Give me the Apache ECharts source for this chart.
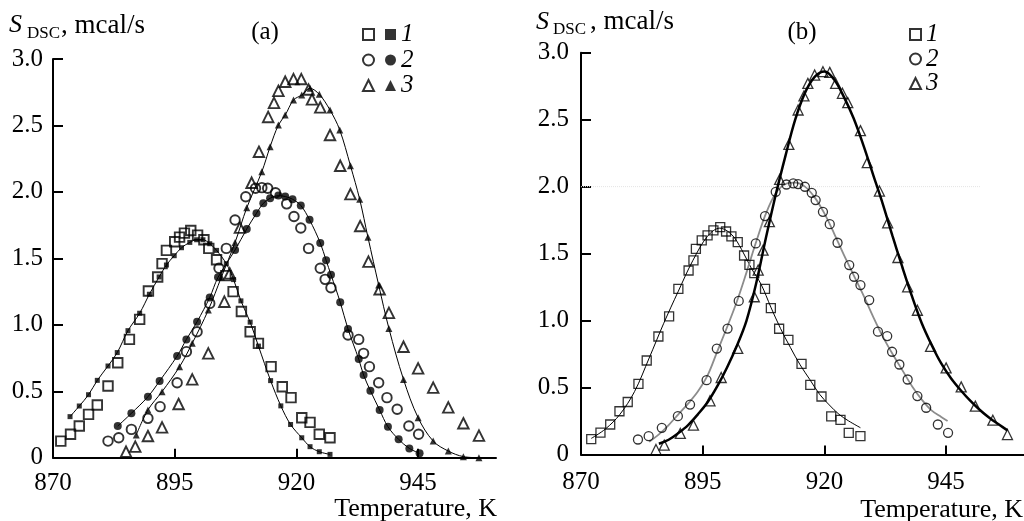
<!DOCTYPE html>
<html>
<head>
<meta charset="utf-8">
<script src="https://cdn.jsdelivr.net/npm/echarts@6/dist/echarts.min.js"></script>
<style>html,body{margin:0;padding:0;background:#fff}#c{width:1024px;height:521px}</style>
</head>
<body>
<div id="c"></div>
<script>
// ---------- DATA (Temperature K, S_DSC mcal/s) ----------
const xTicks = [870, 895, 920, 945];
const yTicks = [0, 0.5, 1.0, 1.5, 2.0, 2.5, 3.0];
const seriesLabels = ['1', '2', '3'];

// Panel (a): open = experiment, filled = calculated
const a1Open = [[871.6,0.125],[873.6,0.176],[875.4,0.238],[877.3,0.326],[879.1,0.396],[881.3,0.539],[883.3,0.715],[885.7,0.890],[887.8,1.041],[889.6,1.254],[891.5,1.36],[892.4,1.46],[893.3,1.56],[895.0,1.625],[896.0,1.66],[897.0,1.69],[898.3,1.71],[899.7,1.675],[901.0,1.64],[902.0,1.575],[903.6,1.49],[905.5,1.37],[907.0,1.25],[908.7,1.10],[910.5,0.948],[912.2,0.86],[914.8,0.685],[917.1,0.534],[918.9,0.452],[921.1,0.301],[922.8,0.266],[924.7,0.176],[926.9,0.15]];
const a1Fill = [[873.5,0.309],[875.4,0.389],[877.3,0.474],[879.1,0.582],[881.3,0.690],[883.2,0.791],[885.4,0.956],[887.8,1.087],[889.8,1.23],[891.8,1.36],[893.3,1.45],[894.9,1.52],[896.4,1.58],[898.1,1.62],[899.5,1.64],[900.8,1.64],[902.2,1.61],[903.6,1.56],[905.6,1.46],[907.1,1.34],[908.6,1.18],[910.5,1.02],[912.2,0.84],[914.7,0.58],[916.8,0.39],[918.8,0.25],[921.1,0.15],[922.8,0.083],[924.7,0.045],[926.9,0.025]];
const a2Open = [[881.3,0.125],[883.5,0.150],[886.1,0.213],[889.5,0.296],[892.0,0.384],[895.5,0.564],[897.4,0.798],[899.6,0.948],[902.2,1.161],[904.1,1.425],[905.6,1.575],[907.4,1.788],[909.6,1.964],[911.6,2.027],[912.9,2.032],[914.1,2.027],[915.7,1.994],[918.0,1.91],[919.5,1.815],[920.9,1.728],[922.5,1.575],[924.9,1.425],[925.9,1.342],[927.1,1.279],[930.6,0.923],[932.8,0.890],[933.8,0.785],[935.0,0.685],[936.9,0.564],[938.6,0.452],[940.7,0.364],[943.1,0.238],[945.1,0.176]];
const a2Fill = [[883.3,0.238],[886.1,0.334],[889.5,0.459],[891.9,0.577],[895.5,0.765],[897.4,0.890],[899.6,1.023],[902.2,1.206],[903.9,1.357],[907.4,1.563],[909.8,1.721],[911.8,1.839],[913.2,1.914],[914.6,1.952],[916.3,1.972],[917.7,1.965],[919.2,1.945],[920.9,1.898],[922.7,1.79],[924.9,1.616],[926.1,1.485],[927.1,1.377],[929.0,1.17],[930.6,0.968],[932.8,0.742],[933.8,0.622],[935.2,0.504],[937.1,0.359],[938.8,0.233],[941.0,0.138],[943.2,0.070],[945.3,0.033]];
const a3Open = [[885.0,0.045],[886.9,0.083],[889.5,0.163],[892.4,0.228],[895.8,0.404],[898.6,0.589],[901.9,0.785],[905.2,1.174],[906.3,1.387],[908.4,1.731],[910.8,2.069],[912.3,2.302],[914.2,2.564],[915.4,2.67],[916.3,2.76],[917.7,2.829],[919.4,2.849],[921.0,2.849],[922.5,2.77],[923.2,2.696],[924.9,2.636],[926.9,2.428],[929.0,2.197],[931.1,1.983],[933.1,1.743],[934.8,1.475],[937.1,1.267],[939.0,1.09],[942.0,0.835],[945.0,0.672],[948.1,0.527],[951.2,0.379],[954.3,0.259],[957.5,0.166]];
const a3Fill = [[887.1,0.171],[889.5,0.359],[892.4,0.497],[896.0,0.685],[898.6,0.861],[901.9,1.111],[904.6,1.36],[907.4,1.62],[909.8,1.88],[912.9,2.152],[914.6,2.34],[916.3,2.503],[917.7,2.578],[919.4,2.691],[921.1,2.729],[922.8,2.779],[924.7,2.734],[926.9,2.616],[928.9,2.466],[931.1,2.197],[933.0,1.944],[934.7,1.658],[936.9,1.299],[939.0,0.973],[942.0,0.589],[945.0,0.301],[948.1,0.125],[951.2,0.05],[954.3,0.008],[957.5,0.0]];

// Panel (b): open = experiment, lines = fits
const b1Open = [[872.1,0.115],[874.0,0.164],[876.0,0.224],[877.9,0.323],[879.6,0.392],[881.8,0.528],[883.5,0.702],[885.9,0.881],[888.1,1.031],[890.0,1.237],[892.1,1.374],[893.1,1.449],[893.6,1.536],[894.8,1.598],[896.0,1.636],[897.2,1.673],[898.6,1.698],[899.8,1.665],[900.9,1.628],[902.2,1.586],[903.5,1.486],[904.6,1.416],[905.6,1.354],[907.8,1.237],[909.0,1.093],[910.7,0.939],[912.6,0.856],[915.3,0.677],[917.1,0.520],[919.4,0.433],[921.4,0.284],[923.3,0.259],[925.0,0.162],[927.4,0.137]];
const b1Fit = [[872.1,0.12],[875,0.19],[878,0.30],[881,0.47],[884,0.72],[887,0.98],[890,1.22],[893,1.45],[896,1.63],[898.5,1.69],[901,1.64],[903,1.53],[905,1.39],[907,1.27],[909,1.10],[911,0.94],[913,0.80],[915,0.67],[917,0.56],[919,0.45],[921,0.37],[923,0.30],[925,0.25],[927.4,0.20]];
const b2Open = [[881.7,0.112],[883.9,0.137],[886.6,0.199],[889.9,0.286],[892.4,0.373],[895.8,0.555],[897.9,0.791],[900.1,0.940],[902.4,1.147],[905.9,1.576],[907.8,1.780],[910.0,1.961],[912.2,2.016],[913.6,2.024],[914.6,2.019],[916.0,1.999],[917.4,1.954],[918.2,1.90],[919.7,1.812],[921.1,1.72],[922.7,1.581],[925.1,1.414],[926.1,1.327],[927.4,1.265],[929.2,1.153],[931.0,0.917],[932.9,0.884],[933.9,0.767],[935.4,0.672],[937.1,0.560],[939.1,0.436],[940.9,0.349],[943.3,0.224],[945.4,0.162]];
const b2Fit = [[884,0.095],[886,0.15],[888,0.22],[890,0.30],[892,0.38],[894,0.47],[896,0.59],[898,0.77],[900,0.95],[902,1.14],[904,1.36],[906,1.59],[908,1.80],[910,1.95],[912,2.02],[914,2.03],[916,2.00],[918,1.92],[920,1.80],[922,1.65],[924,1.49],[926,1.34],[928,1.19],[930,1.03],[932,0.88],[934,0.75],[936,0.63],[938,0.51],[940,0.41],[942,0.33],[944,0.28],[945.3,0.25]];
const b3Open = [[885.4,0.037],[887.1,0.070],[890.4,0.157],[893.1,0.219],[896.5,0.401],[898.8,0.575],[902.2,0.792],[905.6,1.178],[906.4,1.377],[907.4,1.526],[908.7,1.738],[910.8,2.054],[912.7,2.315],[914.6,2.572],[915.8,2.677],[916.6,2.771],[918.0,2.833],[919.7,2.858],[921.1,2.853],[922.3,2.771],[923.7,2.697],[924.8,2.627],[927.4,2.418],[928.8,2.179],[931.3,1.967],[933.0,1.730],[935.1,1.471],[937.1,1.252],[939.1,1.077],[941.8,0.807],[945.0,0.647],[948.1,0.505],[951.0,0.361],[954.6,0.256],[957.6,0.149]];
const b3Fit = [[886,0.08],[888,0.11],[890,0.16],[892,0.22],[894,0.30],[896,0.39],[898,0.51],[900,0.65],[902,0.81],[904,1.00],[906,1.28],[908,1.62],[910,1.94],[912,2.23],[914,2.50],[916,2.70],[918,2.82],[920,2.86],[922,2.80],[924,2.67],[926,2.51],[928,2.31],[930,2.09],[932,1.87],[934,1.63],[936,1.40],[938,1.18],[940,0.98],[942,0.82],[944,0.68],[946,0.57],[948,0.48],[950,0.40],[952,0.33],[954,0.27],[956,0.22],[957.6,0.18]];
const faintLevel = [[870, 2.0], [952, 2.0]];

// ---------- STYLE ----------
const FONT = 'Liberation Serif';
const BLACK = '#000';
const chart = echarts.init(document.getElementById('c'), null, {renderer: 'canvas'});

function xAx(gi, margin) {
  return {
    type: 'value', gridIndex: gi, min: 870, max: 961,
    axisLine: {show: true, onZero: false, lineStyle: {color: BLACK, width: 2}},
    axisTick: {show: true, inside: true, length: 9, lineStyle: {color: BLACK, width: 2}, customValues: xTicks},
    axisLabel: {show: true, customValues: xTicks, color: BLACK, fontFamily: FONT, fontSize: 25, margin: margin},
    splitLine: {show: false}
  };
}
function yAx(gi, margin) {
  return {
    type: 'value', gridIndex: gi, min: 0, max: 3, interval: 0.5,
    axisLine: {show: true, onZero: false, lineStyle: {color: BLACK, width: 2}},
    axisTick: {show: true, inside: true, length: 10, lineStyle: {color: BLACK, width: 2}},
    axisLabel: {show: true, color: BLACK, fontFamily: FONT, fontSize: 25, margin: margin,
      formatter: v => (v === 0 ? '0' : v.toFixed(1))},
    splitLine: {show: false}
  };
}
function fitLine(name, data, gi, color, width, extra) {
  return Object.assign({
    name: name, type: 'line', xAxisIndex: gi, yAxisIndex: gi, data: data,
    smooth: 0.35, showSymbol: false, symbol: 'none', silent: true,
    lineStyle: {color: color, width: width}, z: 3
  }, extra || {});
}
function pts(name, data, gi, symbol, size, filled, bw) {
  return {
    name: name, type: 'scatter', xAxisIndex: gi, yAxisIndex: gi, data: data,
    symbol: symbol, symbolSize: size, silent: true,
    itemStyle: filled ? {color: BLACK, borderWidth: 0}
                      : {color: 'rgba(255,255,255,0)', borderColor: BLACK, borderWidth: bw},
    z: filled ? 4 : 5
  };
}
const legendText = {color: BLACK, fontFamily: FONT, fontStyle: 'italic', fontSize: 25, lineHeight: 25};
const labFmt = n => n.charAt(1);
const txt = (x, y, text, size, italic, align) => ({
  type: 'text', silent: true,
  style: {x: x, y: y, text: text, fill: BLACK, font: (italic ? 'italic ' : '') + size + 'px ' + FONT,
          align: align || 'left', verticalAlign: 'middle'}
});

const option = {
  animation: false,
  backgroundColor: '#fff',
  textStyle: {fontFamily: FONT},
  grid: [
    {left: 53, top: 59, width: 443, height: 398.7, containLabel: false},
    {left: 581, top: 52.7, width: 443, height: 401.8, containLabel: false}
  ],
  xAxis: [xAx(0, 13), xAx(1, 15)],
  yAxis: [yAx(0, 10), yAx(1, 12)],
  legend: [
    {data: ['a1o', 'a2o', 'a3o'], orient: 'vertical', left: 357, top: 17, itemWidth: 11, itemHeight: 11,
     itemGap: 0.5, formatter: labFmt, textStyle: Object.assign({}, legendText, {color: 'rgba(0,0,0,0)'}), selectedMode: false},
    {data: ['a1f', 'a2f', 'a3f'], orient: 'vertical', left: 380, top: 17, itemWidth: 11, itemHeight: 11,
     itemGap: 0.5, formatter: labFmt, textStyle: legendText, selectedMode: false},
    {data: ['b1o', 'b2o', 'b3o'], orient: 'vertical', left: 904, top: 17, itemWidth: 11, itemHeight: 11,
     itemGap: -0.5, formatter: labFmt, textStyle: legendText, selectedMode: false}
  ],
  title: [
    {text: '(a)', left: 260, top: 15, textAlign: 'center', textStyle: {color: BLACK, fontFamily: FONT, fontWeight: 'normal', fontSize: 25}},
    {text: '(b)', left: 797, top: 15, textAlign: 'center', textStyle: {color: BLACK, fontFamily: FONT, fontWeight: 'normal', fontSize: 25}}
  ],
  graphic: [
    txt(9, 25.5, 'S', 26, true),
    txt(27, 33.5, 'DSC', 17, false),
    txt(61, 25.5, ', mcal/s', 27, false),
    txt(536, 22, 'S', 26, true),
    txt(553, 30, 'DSC', 17, false),
    txt(590, 22, ', mcal/s', 27, false),
    txt(497, 509, 'Temperature, K', 26, false, 'right'),
    txt(1023, 510.5, 'Temperature, K', 26, false, 'right')
  ],
  series: [
    // panel (a)
    fitLine('a1l', a1Fill, 0, BLACK, 1),
    fitLine('a2l', a2Fill, 0, BLACK, 1),
    fitLine('a3l', a3Fill, 0, BLACK, 1),
    pts('a1f', a1Fill, 0, 'rect', 5, true),
    pts('a2f', a2Fill, 0, 'circle', 8, true),
    pts('a3f', a3Fill, 0, 'triangle', 7, true),
    pts('a1o', a1Open, 0, 'rect', 9.5, false, 1.9),
    pts('a2o', a2Open, 0, 'circle', 9.5, false, 1.9),
    pts('a3o', a3Open, 0, 'triangle', 10.5, false, 1.9),
    // panel (b)
    fitLine('bgrid', faintLevel, 1, '#e4e4e4', 1, {smooth: false, lineStyle: {color: '#e4e4e4', width: 1, type: 'dotted'}, z: 1}),
    fitLine('b1l', b1Fit, 1, BLACK, 1),
    fitLine('b2l', b2Fit, 1, '#8c8c8c', 1.8),
    fitLine('b3l', b3Fit, 1, BLACK, 2.5),
    pts('b1o', b1Open, 1, 'rect', 9, false, 1.3),
    pts('b2o', b2Open, 1, 'circle', 9, false, 1.3),
    pts('b3o', b3Open, 1, 'triangle', 10, false, 1.3)
  ]
};
chart.setOption(option);
</script>
</body>
</html>
